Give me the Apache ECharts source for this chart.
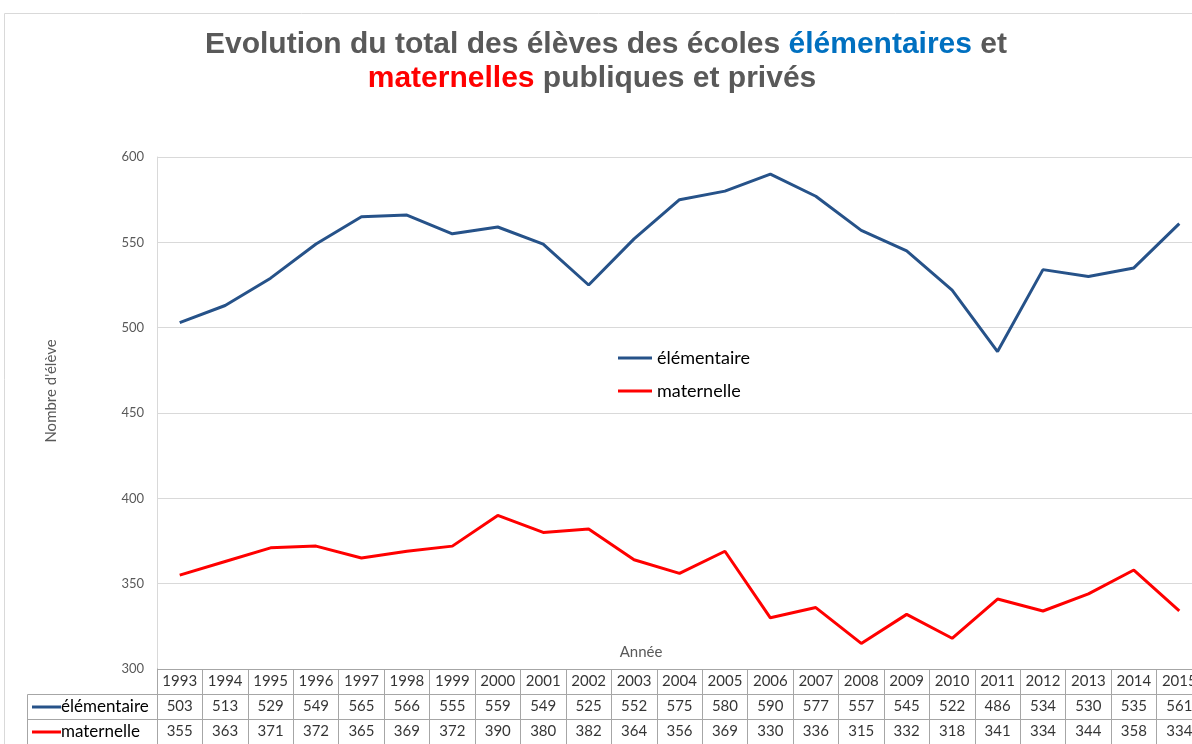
<!DOCTYPE html>
<html>
<head>
<meta charset="utf-8">
<script src="https://cdn.jsdelivr.net/npm/echarts@6/dist/echarts.min.js"></script>
<style>html,body{margin:0;padding:0;background:#fff}#c{width:1192px;height:744px}</style>
</head>
<body>
<div id="c"></div>
<script>
const years = ['1993','1994','1995','1996','1997','1998','1999','2000','2001','2002','2003','2004','2005','2006','2007','2008','2009','2010','2011','2012','2013','2014','2015'];
const elementaire = [503,513,529,549,565,566,555,559,549,525,552,575,580,590,577,557,545,522,486,534,530,535,561];
const maternelle = [355,363,371,372,365,369,372,390,380,382,364,356,369,330,336,315,332,318,341,334,344,358,334];
const seriesNames = ['élémentaire','maternelle'];
const yTicks = {min:300, max:600, interval:50};

const BLUE = '#265289', RED = '#ff0000', GRAY = '#595959', TBL = '#a6a6a6';
const FONT = 'Lato';

const chart = echarts.init(document.getElementById('c'), null, {renderer:'canvas'});

function rowData(vals, y) { return vals.map((v,i)=>[i, y, v]); }
const tableLabel = {show:true, position:'inside', color:'#000', fontFamily:FONT, fontSize:15, formatter:p=>String(p.value[2])};
const TITLE_FONT = 'bold 30px "Liberation Sans", Arial';

const option = {
  animation:false,
  textStyle:{fontFamily:FONT},
  grid:[
    {left:157, width:1045, top:157, height:512, outerBoundsMode:'none', containLabel:false},
    {left:157, width:1045, top:669, height:75, outerBoundsMode:'none', containLabel:false}
  ],
  xAxis:[
    {type:'category', gridIndex:0, data:years, boundaryGap:true, axisLine:{show:false}, axisTick:{show:false}, axisLabel:{show:false}},
    {type:'category', gridIndex:1, data:years, boundaryGap:true, axisLine:{show:false}, axisTick:{show:false}, axisLabel:{show:false},
     splitLine:{show:true, interval:0, lineStyle:{color:TBL, width:1}}}
  ],
  yAxis:[
    {type:'value', gridIndex:0, min:yTicks.min, max:yTicks.max, interval:yTicks.interval,
     axisLine:{show:true, lineStyle:{color:'#d9d9d9'}}, axisTick:{show:false},
     axisLabel:{color:GRAY, fontSize:13, margin:13, fontFamily:FONT},
     splitLine:{lineStyle:{color:'#d9d9d9'}},
     name:"Nombre d'élève", nameLocation:'middle', nameGap:98, nameRotate:90,
     nameTextStyle:{color:GRAY, fontSize:15, fontFamily:FONT, padding:[0,0,0,44]}},
    {type:'value', gridIndex:1, min:0, max:3, interval:1, axisLine:{show:true, lineStyle:{color:TBL}}, axisTick:{show:false}, axisLabel:{show:false},
     splitLine:{show:true, lineStyle:{color:TBL}}}
  ],
  legend:{orient:'vertical', left:613, top:344, itemGap:15, icon:'rect', itemWidth:34, itemHeight:3,
    textStyle:{color:'#000', fontSize:18, fontFamily:FONT}, data:seriesNames},
  series:[
    {name:seriesNames[0], type:'line', xAxisIndex:0, yAxisIndex:0, data:elementaire, showSymbol:false, symbol:'none', lineStyle:{color:BLUE, width:3}, itemStyle:{color:BLUE}},
    {name:seriesNames[1], type:'line', xAxisIndex:0, yAxisIndex:0, data:maternelle, showSymbol:false, symbol:'none', lineStyle:{color:RED, width:3}, itemStyle:{color:RED}},
    {type:'scatter', xAxisIndex:1, yAxisIndex:1, symbolSize:1, itemStyle:{color:'rgba(0,0,0,0)'}, data:years.map((y,i)=>[i,2.5,y]), label:tableLabel, silent:true},
    {type:'scatter', xAxisIndex:1, yAxisIndex:1, symbolSize:1, itemStyle:{color:'rgba(0,0,0,0)'}, data:rowData(elementaire,1.5), label:tableLabel, silent:true},
    {type:'scatter', xAxisIndex:1, yAxisIndex:1, symbolSize:1, itemStyle:{color:'rgba(0,0,0,0)'}, data:rowData(maternelle,0.5), label:tableLabel, silent:true}
  ],
  graphic:[
    {type:'rect', shape:{x:4.5, y:13.5, width:1300, height:900}, style:{fill:null, stroke:'#d9d9d9', lineWidth:1}, silent:true, z:-10},
    {type:'text', x:606, y:45, style:{
      text:'{g|Evolution du total des élèves des écoles }{b|élémentaires}{g| et}',
      align:'center', verticalAlign:'middle',
      rich:{g:{fill:GRAY, font:TITLE_FONT}, b:{fill:'#0070c0', font:TITLE_FONT}}
    }},
    {type:'text', x:592, y:79, style:{
      text:'{r|maternelles}{g| publiques et privés}',
      align:'center', verticalAlign:'middle',
      rich:{g:{fill:GRAY, font:TITLE_FONT}, r:{fill:RED, font:TITLE_FONT}}
    }},
    {type:'text', x:641, y:652, style:{text:'Année', fill:GRAY, font:'15px Lato', align:'center', verticalAlign:'middle'}},
    {type:'rect', shape:{x:27.5, y:694.5, width:130, height:50}, style:{fill:null, stroke:TBL, lineWidth:1}},
    {type:'line', shape:{x1:27.5, y1:719.5, x2:157, y2:719.5}, style:{stroke:TBL, lineWidth:1}},
    {type:'line', shape:{x1:32, y1:707, x2:61, y2:707}, style:{stroke:BLUE, lineWidth:3}},
    {type:'text', x:61, y:707, style:{text:seriesNames[0], fill:'#000', font:'17px Lato', align:'left', verticalAlign:'middle'}},
    {type:'line', shape:{x1:32, y1:732, x2:61, y2:732}, style:{stroke:RED, lineWidth:3}},
    {type:'text', x:61, y:732, style:{text:seriesNames[1], fill:'#000', font:'17px Lato', align:'left', verticalAlign:'middle'}}
  ]
};
chart.setOption(option);
</script>
</body>
</html>
